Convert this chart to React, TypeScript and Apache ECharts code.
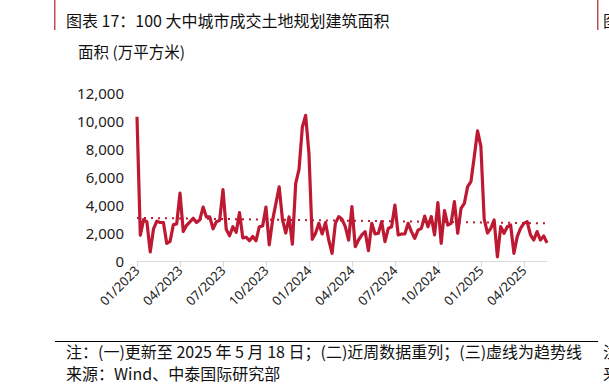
import React, { useEffect, useRef } from "react";
import * as echarts from "echarts";

const START_DATE = "2023-01-01";
const WEEK_COUNT = 125;

const areaValues: number[] = [
  10300, 1850, 2950, 2800, 650, 2300, 2850, 2750, 2750, 1250,
  1400, 2600, 2650, 4850, 2100, 2550, 2800, 3050, 2750, 2950,
  3850, 3150, 3150, 2300, 2800, 2900, 5100, 2250, 1800, 2450,
  2050, 3450, 1650, 1700, 1450, 1750, 1450, 2450, 2500, 3850,
  1150, 2900, 4100, 5300, 2950, 2000, 3150, 1200, 5550, 6550,
  9550, 10400, 7700, 1550, 1980, 2690, 1930, 2740, 1500, 550,
  2690, 3170, 2980, 2450, 1500, 3880, 1020, 1500, 1860, 2100,
  740, 2690, 1930, 1980, 2810, 1380, 2330, 2450, 4000, 1860,
  1930, 1930, 2690, 2100, 1620, 2210, 2330, 3210, 2450, 3170,
  1860, 4170, 1260, 3600, 2570, 2690, 4240, 1980, 3760, 4120,
  5310, 5670, 7450, 9300, 8200, 3000, 2000, 2330, 2930, 300,
  2450, 1980, 2450, 2570, 550, 1740, 2330, 2690, 2810, 1860,
  1500, 2100, 1500, 1790, 1290,
];

const trendStart = 3080;
const trendEnd = 2690;

const quarterDates = [
  "2023-01-01", "2023-04-01", "2023-07-01", "2023-10-01", "2024-01-01",
  "2024-04-01", "2024-07-01", "2024-10-01", "2025-01-01", "2025-04-01",
];
const quarterLabels = [
  "01/2023", "04/2023", "07/2023", "10/2023", "01/2024",
  "04/2024", "07/2024", "10/2024", "01/2025", "04/2025",
];

const yTicks = { min: 0, max: 12000, interval: 2000 };

const titleText = "图表 17：100 大中城市成交土地规划建筑面积";
const unitText = "面积 (万平方米)";
const noteText = "注：(一)更新至 2025 年 5 月 18 日；(二)近周数据重列；(三)虚线为趋势线";
const sourceText = "来源：Wind、中泰国际研究部";

const DAY = 86400000;
const startMs = Date.parse(START_DATE + "T00:00:00Z");
const weekDates: string[] = [];
for (let i = 0; i < WEEK_COUNT; i++) {
  weekDates.push(new Date(startMs + i * 7 * DAY).toISOString().slice(0, 10));
}
const tickIndex: Record<number, string> = {};
quarterDates.forEach((d, k) => {
  const ms = Date.parse(d + "T00:00:00Z");
  const idx = Math.round((ms - startMs) / (7 * DAY));
  tickIndex[idx] = quarterLabels[k];
});

const trendData: (number | null)[] = weekDates.map((_, i) =>
  i === 0 ? trendStart : i === WEEK_COUNT - 1 ? trendEnd : null
);

const RED = "#BE1932";
const FONT = '"Noto Sans", "Open Sans", sans-serif';
const CJK = '"Noto Sans CJK SC", sans-serif';

export default function App() {
  const ref = useRef<HTMLDivElement>(null);
  useEffect(() => {
    if (!ref.current) return;
    const chart = echarts.init(ref.current, undefined, { renderer: "svg" });
    chart.setOption({
      animation: false,
      backgroundColor: "#ffffff",
      grid: { left: 137, right: 62, top: 93, bottom: 131, containLabel: false },
      xAxis: {
        type: "category",
        data: weekDates,
        boundaryGap: false,
        axisLine: { show: true, lineStyle: { color: "#d9d9d9", width: 1 } },
        axisTick: {
          show: true,
          interval: (i: number) => tickIndex[i] !== undefined,
          length: 6,
          lineStyle: { color: "#d9d9d9" },
        },
        axisLabel: {
          interval: (i: number) => tickIndex[i] !== undefined,
          formatter: (_v: string, i: number) => tickIndex[i] || "",
          rotate: 45,
          fontSize: 13,
          color: "#222",
          fontFamily: FONT,
          margin: 7,
        },
        splitLine: { show: false },
      },
      yAxis: {
        type: "value",
        min: yTicks.min,
        max: yTicks.max,
        interval: yTicks.interval,
        axisLine: { show: false },
        axisTick: { show: false },
        splitLine: { show: false },
        axisLabel: {
          fontSize: 15,
          color: "#222",
          fontFamily: FONT,
          margin: 13,
          formatter: (v: number) => v.toLocaleString("en-US"),
        },
      },
      series: [
        {
          type: "line",
          data: areaValues,
          symbol: "none",
          lineStyle: { color: RED, width: 3.2, join: "round" },
          z: 3,
        },
        {
          type: "line",
          data: trendData,
          connectNulls: true,
          symbol: "none",
          lineStyle: { color: RED, width: 2, type: [2, 5] },
          z: 2,
        },
      ],
      graphic: [
        { type: "rect", shape: { x: 54, y: 0, width: 1.5, height: 30 }, style: { fill: "#C0504D" } },
        { type: "rect", shape: { x: 597, y: 0, width: 1.5, height: 30 }, style: { fill: "#C0504D" } },
        { type: "text", x: 66, y: 10, style: { text: titleText, fontSize: 16, lineHeight: 20, fill: "#111", fontFamily: CJK } },
        { type: "text", x: 603, y: 10, style: { text: "图", fontSize: 16, lineHeight: 20, fill: "#111", fontFamily: CJK } },
        { type: "text", x: 78, y: 41, style: { text: unitText, fontSize: 15.5, lineHeight: 20, fill: "#111", fontFamily: CJK } },
        { type: "rect", shape: { x: 55, y: 341, width: 543, height: 1 }, style: { fill: "#000" } },
        { type: "text", x: 66, y: 342, style: { text: noteText, fontSize: 16, lineHeight: 18, fill: "#111", fontFamily: CJK } },
        { type: "text", x: 66, y: 364, style: { text: sourceText, fontSize: 16, lineHeight: 18, fill: "#111", fontFamily: CJK } },
        { type: "text", x: 603, y: 342, style: { text: "注", fontSize: 16, lineHeight: 18, fill: "#111", fontFamily: CJK } },
        { type: "text", x: 603, y: 364, style: { text: "来", fontSize: 16, lineHeight: 18, fill: "#111", fontFamily: CJK } },
      ],
    });
    return () => chart.dispose();
  }, []);
  return (
    <div
      ref={ref}
      style={{ position: "fixed", left: 0, top: 0, width: 609, height: 392, background: "#fff" }}
    />
  );
}
